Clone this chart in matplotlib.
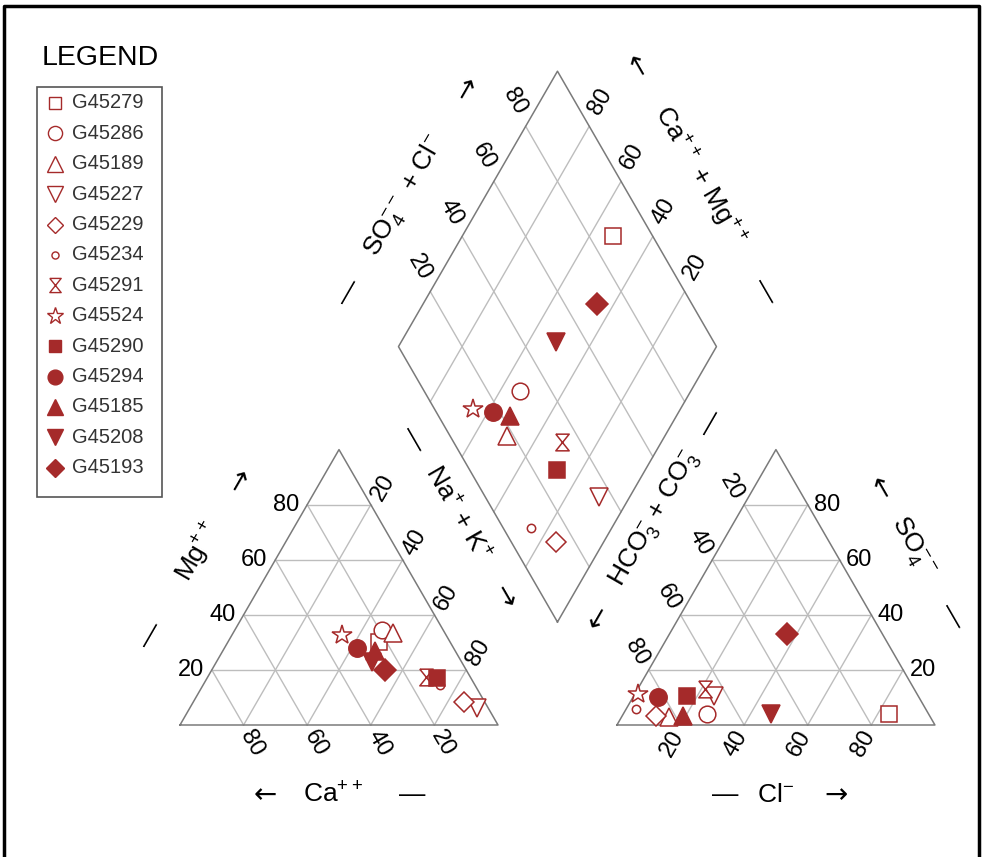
import numpy as np
import matplotlib
matplotlib.use("Agg")
import matplotlib.pyplot as plt
from matplotlib.path import Path

plt.rcParams['font.family'] = ['Liberation Sans', 'DejaVu Sans']
plt.rcParams['mathtext.default'] = 'regular'

# sample data (percent of meq)
samples = ['G45279', 'G45286', 'G45189', 'G45227', 'G45229', 'G45234', 'G45291',
           'G45524', 'G45290', 'G45294', 'G45185', 'G45208', 'G45193']
ca   = [22.5, 19.3, 16.2, 3.5, 6.6, 11.0, 13.8, 32.6, 10.7, 30.2, 25.2, 28.2, 25.4]
mg   = [30.0, 34.5, 33.4, 6.2, 8.4, 14.5, 17.4, 32.7, 17.1, 28.0, 27.0, 23.0, 20.0]
nak  = [47.5, 46.2, 50.4, 90.3, 85.0, 74.5, 68.8, 34.7, 72.2, 41.8, 47.8, 48.8, 54.6]
hco3 = [12.5, 69.8, 82.1, 64.2, 86.0, 91.2, 65.9, 87.8, 72.7, 82.1, 77.5, 49.5, 30.0]
so4  = [4.0, 4.0, 2.9, 10.6, 3.4, 5.8, 13.0, 11.3, 10.6, 10.1, 3.4, 4.0, 33.0]
cl   = [83.5, 26.2, 15.0, 25.2, 10.6, 3.0, 21.1, 0.9, 16.7, 7.8, 19.1, 46.5, 37.0]

ticks = [20, 40, 60, 80]

hourglass = Path([(-0.4, 0.5), (0.4, 0.5), (-0.4, -0.5), (0.4, -0.5), (-0.4, 0.5)])
markers = ['s', 'o', '^', 'v', 'D', 'o', hourglass, '*', 's', 'o', '^', 'v', 'D']
msizes  = [11, 12, 13, 13, 10, 6, 12, 15, 11, 12.5, 13, 13, 11]
filled  = [False] * 8 + [True] * 5
col = '#A52A2A'

S3 = np.sqrt(3) / 2
GAP = 37.4
BX, BY = 100 + GAP / 2, GAP * S3


def cat_xy(c, m, n):
    t = c + m + n
    m, n = m / t * 100, n / t * 100
    return n + m / 2, m * S3


def an_xy(h, s, c):
    t = h + s + c
    s, c = s / t * 100, c / t * 100
    return 100 + GAP + c + s / 2, s * S3


def dia_xy(camg, so4cl):
    return BX + 0.5 * (so4cl - camg), BY + S3 * (so4cl + camg)


fig = plt.figure(figsize=(9.84, 8.57), dpi=100)
ax = fig.add_axes([0, 0, 1, 1])
PX = 3.18
ax.set_xlim(-180 / PX, (984 - 180) / PX)
ax.set_ylim((725 - 857) / PX, 725 / PX)
ax.axis('off')


def px2d(px, py):
    return (px - 180) / PX, (725 - py) / PX


def seg(p, q, **kw):
    ax.plot([p[0], q[0]], [p[1], q[1]], **kw)


gkw = dict(color='#BDBDBD', lw=1.0, zorder=1)
okw = dict(color='#7A7A7A', lw=1.1, zorder=2)

# grids
for v in ticks:
    seg(cat_xy(100 - v, v, 0), cat_xy(0, v, 100 - v), **gkw)
    seg(cat_xy(v, 0, 100 - v), cat_xy(v, 100 - v, 0), **gkw)
    seg(cat_xy(100 - v, 0, v), cat_xy(0, 100 - v, v), **gkw)
    seg(an_xy(100 - v, v, 0), an_xy(0, v, 100 - v), **gkw)
    seg(an_xy(v, 0, 100 - v), an_xy(v, 100 - v, 0), **gkw)
    seg(an_xy(100 - v, 0, v), an_xy(0, 100 - v, v), **gkw)
    seg(dia_xy(v, 0), dia_xy(v, 100), **gkw)
    seg(dia_xy(0, v), dia_xy(100, v), **gkw)

# outlines
for poly in ([cat_xy(100, 0, 0), cat_xy(0, 0, 100), cat_xy(0, 100, 0)],
             [an_xy(100, 0, 0), an_xy(0, 0, 100), an_xy(0, 100, 0)],
             [dia_xy(0, 0), dia_xy(0, 100), dia_xy(100, 100), dia_xy(100, 0)]):
    xs = [p[0] for p in poly] + [poly[0][0]]
    ys = [p[1] for p in poly] + [poly[0][1]]
    ax.plot(xs, ys, **okw)

# tick labels
tfs = 17
for v in ticks:
    x, y = cat_xy(100 - v, v, 0)
    ax.text(x - 2.5, y, str(v), ha='right', va='center', fontsize=tfs)
    x, y = cat_xy(v, 0, 100 - v)
    ax.text(x + 2.6, y - 5.8, str(v), ha='center', va='center', rotation=-60, fontsize=tfs)
    x, y = cat_xy(0, 100 - v, v)
    ax.text(x + 3.8, y + 5.4, str(v), ha='center', va='center', rotation=60, fontsize=tfs)
    x, y = an_xy(0, v, 100 - v)
    ax.text(x + 2.0, y, str(v), ha='left', va='center', fontsize=tfs)
    x, y = an_xy(100 - v, 0, v)
    ax.text(x - 2.6, y - 5.8, str(v), ha='center', va='center', rotation=60, fontsize=tfs)
    x, y = an_xy(v, 100 - v, 0)
    ax.text(x - 3.8, y + 5.4, str(v), ha='center', va='center', rotation=-60, fontsize=tfs)
    x, y = dia_xy(100, v)
    ax.text(x - 3.4, y + 7.7, str(v), ha='center', va='center', rotation=-60, fontsize=tfs)
    x, y = dia_xy(v, 100)
    ax.text(x + 3.4, y + 7.7, str(v), ha='center', va='center', rotation=60, fontsize=tfs)

# axis titles
afs = 19
D = 22


def along(p, q, t, side, s, rot, fs=afs, fam=None):
    # side = +1 -> offset to the left of the p->q direction
    dx, dy = q[0] - p[0], q[1] - p[1]
    L = np.hypot(dx, dy)
    nx, ny = -dy / L * side, dx / L * side
    x = p[0] + t * dx + D * nx
    y = p[1] + t * dy + D * ny
    kw = {} if fam is None else {'family': fam}
    ax.text(x, y, s, ha='center', va='center', rotation=rot, fontsize=fs, **kw)


def arrow(p, q, t, side, s, rot):
    along(p, q, t, side, s, rot, fs=20, fam='DejaVu Sans')


ca_v, mg_v, na_v = cat_xy(100, 0, 0), cat_xy(0, 100, 0), cat_xy(0, 0, 100)
hc_v, so_v, cl_v = an_xy(100, 0, 0), an_xy(0, 100, 0), an_xy(0, 0, 100)
dL, dT, dR = dia_xy(100, 0), dia_xy(100, 100), dia_xy(0, 100)

along(ca_v, mg_v, 0.2, 1, '\u2014', 60)
along(ca_v, mg_v, 0.5, 1, 'Mg$^{++}$', 60)
arrow(ca_v, mg_v, 0.76, 1, '\u2192', 60)

arrow(na_v, mg_v, 0.34, -1, '\u2192', -60)
along(na_v, mg_v, 0.64, -1, 'Na$^{+}$ + K$^{+}$', -60)
along(na_v, mg_v, 0.91, -1, '\u2014', -60)

arrow(na_v, ca_v, 0.733, 1, '\u2190', 0)
along(na_v, ca_v, 0.52, 1, 'Ca$^{++}$', 0)
along(na_v, ca_v, 0.27, 1, '\u2014', 0)

arrow(hc_v, so_v, 0.265, 1, '\u2190', 60)
along(hc_v, so_v, 0.62, 1, 'HCO$_3^{-}$ + CO$_3^{-}$', 60)
along(hc_v, so_v, 0.97, 1, '\u2014', 60)

along(cl_v, so_v, 0.27, -1, '\u2014', -60)
along(cl_v, so_v, 0.52, -1, 'SO$_4^{--}$', -60)
arrow(cl_v, so_v, 0.73, -1, '\u2190', -60)

along(cl_v, hc_v, 0.66, 1, '\u2014', 0)
along(cl_v, hc_v, 0.5, 1, 'Cl$^{-}$', 0)
arrow(cl_v, hc_v, 0.31, 1, '\u2192', 0)

along(dL, dT, 0.07, 1, '\u2014', 60)
along(dL, dT, 0.42, 1, 'SO$_4^{--}$ + Cl$^{-}$', 60)
arrow(dL, dT, 0.81, 1, '\u2192', 60)

along(dR, dT, 0.075, -1, '\u2014', -60)
along(dR, dT, 0.49, -1, 'Ca$^{++}$ + Mg$^{++}$', -60)
arrow(dR, dT, 0.89, -1, '\u2190', -60)

# data points
for i in range(len(samples)):
    tot_c = ca[i] + mg[i] + nak[i]
    tot_a = hco3[i] + so4[i] + cl[i]
    camg = (ca[i] + mg[i]) / tot_c * 100
    socl = (so4[i] + cl[i]) / tot_a * 100
    pts = [cat_xy(ca[i], mg[i], nak[i]), an_xy(hco3[i], so4[i], cl[i]), dia_xy(camg, socl)]
    fc = col if filled[i] else 'white'
    for x, y in pts:
        ax.plot(x, y, marker=markers[i], ms=msizes[i], mfc=fc, mec=col,
                mew=1.1, ls='none', zorder=3 + i)

# legend
ax.text(*px2d(100, 58), 'LEGEND', ha='center', va='center', fontsize=20.5)
bx0, by0 = px2d(37, 497)
bx1, by1 = px2d(162, 87)
ax.add_patch(plt.Rectangle((bx0, by0), bx1 - bx0, by1 - by0, fill=False,
                           ec='#555555', lw=1.2, zorder=2))
for i, name in enumerate(samples):
    py = 103 + i * 30.4
    mx, my = px2d(55, py)
    fc = col if filled[i] else 'white'
    ax.plot(mx, my, marker=markers[i], ms=msizes[i] * 0.85, mfc=fc, mec=col,
            mew=1.0, ls='none')
    ax.text(*px2d(72, py), name, ha='left', va='center', fontsize=14.5, color='#333333')

# frame around the figure
fig.add_artist(plt.Line2D([0.004, 0.004, 0.995, 0.995], [0.0, 0.993, 0.993, 0.0],
                          transform=fig.transFigure, color='black', lw=2.5))

fig.savefig('out.png', dpi=100)
